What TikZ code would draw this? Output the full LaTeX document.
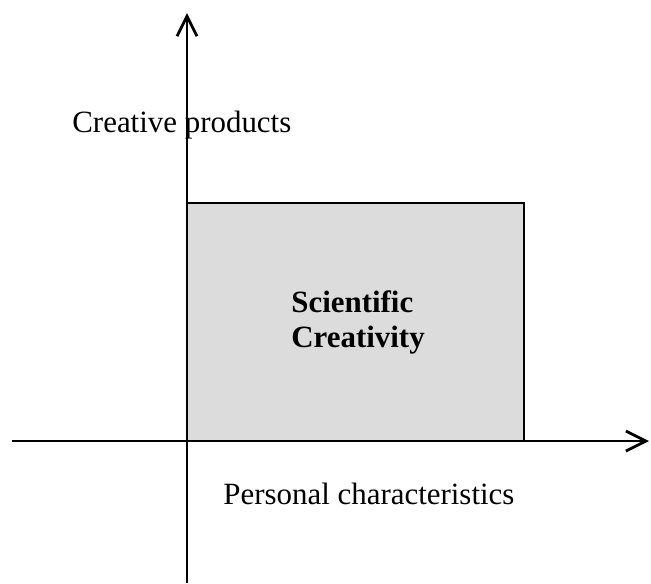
\documentclass[tikz,border=0pt]{standalone}
\usepackage{fontspec}
\setmainfont{Liberation Serif}
\usetikzlibrary{positioning,arrows.meta}

\definecolor{boxgray}{RGB}{220,220,220}

\begin{document}
\begin{tikzpicture}[x=0.02cm, y=-0.02cm,
	axis/.style={line width=1.6pt, -{Straight Barb[length=0.4cm, width=0.4cm]}}]
	\useasboundingbox (0, 0) rectangle (651, 583);
	\begin{scope}
		\tikzstyle{every node}=[inner sep=0pt, font=\fontsize{17.6pt}{19.9pt}\selectfont]
		\coordinate (o) at (187, 441);
		\coordinate (ytop) at (187, 13);
		\coordinate (ybot) at (187, 583);
		\coordinate (xleft) at (12, 441);
		\coordinate (xright) at (649, 441);

		% the shaded area
		\filldraw [fill=boxgray, line width=1.3pt] (o) rectangle (524, 203);

		\draw [axis] (ybot) to (ytop);
		\draw [axis] (xleft) to (xright);

		\node [anchor=base west] (prod) at (72, 132) {Creative products};
		\node [anchor=base west] (pers) at (223, 504) {Personal characteristics};
		\node [anchor=west, align=left, font=\fontsize{17.6pt}{19.9pt}\selectfont\bfseries] (sc) at (291, 322) {Scientific\\Creativity};
	\end{scope}
\end{tikzpicture}
\end{document}
